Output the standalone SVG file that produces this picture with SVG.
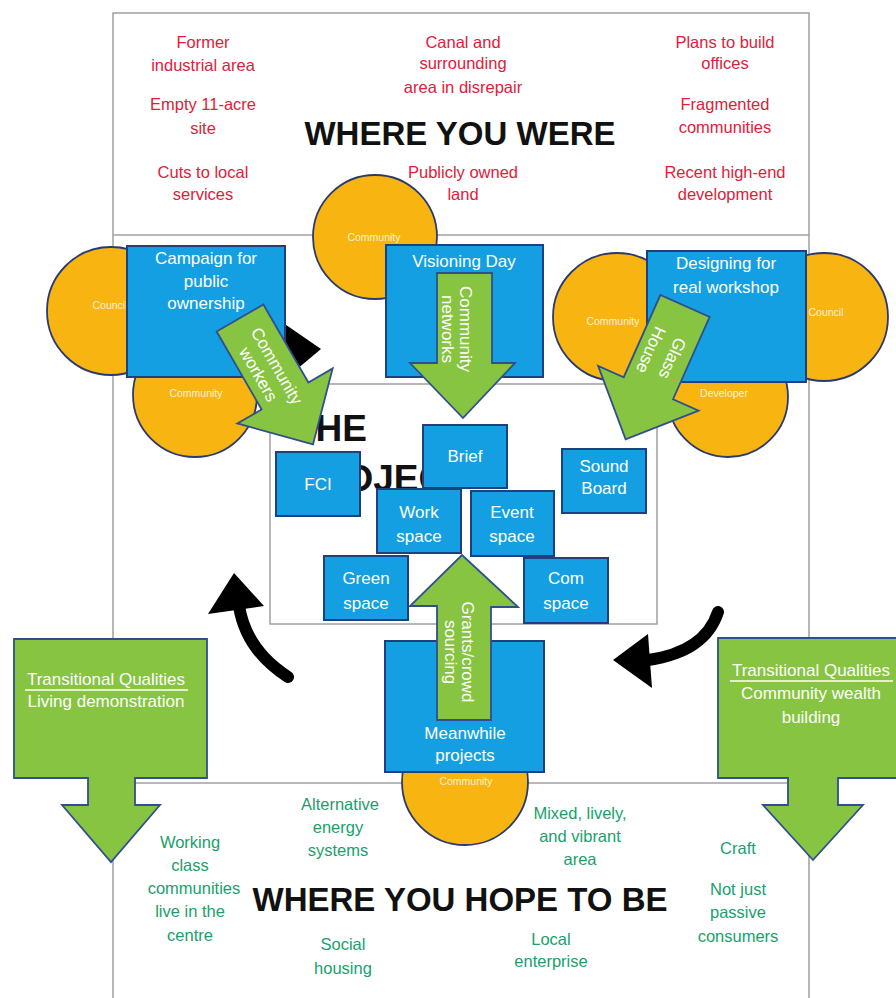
<svg xmlns="http://www.w3.org/2000/svg" width="896" height="998" viewBox="0 0 896 998">
<defs>
<style>
.frame{fill:none;stroke:#a0a0a0;stroke-width:1.5}
.red{font-family:"Liberation Sans",Arial,sans-serif;font-size:16.5px;fill:#e0203a;text-anchor:middle}
.grn{font-family:"Liberation Sans",Arial,sans-serif;font-size:16.5px;fill:#1a9f6c;text-anchor:middle}
.title{font-family:"Liberation Sans",Arial,sans-serif;font-size:33px;font-weight:bold;fill:#111;text-anchor:middle}
.proj{font-family:"Liberation Sans",Arial,sans-serif;font-size:37px;font-weight:bold;fill:#111}
.circ{fill:#f8b411;stroke:#2b3a6e;stroke-width:1.8}
.clab{font-family:"Liberation Sans",Arial,sans-serif;font-size:10.5px;fill:#fff;fill-opacity:0.85;text-anchor:middle}
.box{fill:#139fe2;stroke:#1f3f7f;stroke-width:2}
.btxt{font-family:"Liberation Sans",Arial,sans-serif;font-size:17px;fill:#fff;text-anchor:middle}
.garr{fill:#86c441;stroke:#2f4f8f;stroke-width:1.8}
.gtxt{font-family:"Liberation Sans",Arial,sans-serif;font-size:17px;fill:#fff;text-anchor:middle}
.curve{fill:none;stroke:#000;stroke-width:12;stroke-linecap:round}
</style>
<path id="arrowShape" d="M0,-27 L90,-27 L90,-55 L146,0 L90,55 L90,27 L0,27 Z"/>
</defs>
<rect x="0" y="0" width="896" height="998" fill="#fff"/>

<g id="frames">
<polyline class="frame" points="113,998 113,13 809,13 809,998"/>
<line class="frame" x1="113" y1="235" x2="809" y2="235"/>
<line class="frame" x1="113" y1="783" x2="809" y2="783"/>
<rect class="frame" x="270" y="384" width="387" height="240"/>
</g>

<g id="where-you-were">
<text class="red" x="203" y="48">Former</text>
<text class="red" x="203" y="71">industrial area</text>
<text class="red" x="203" y="110">Empty 11-acre</text>
<text class="red" x="203" y="134">site</text>
<text class="red" x="203" y="178">Cuts to local</text>
<text class="red" x="203" y="200">services</text>
<text class="red" x="463" y="48">Canal and</text>
<text class="red" x="463" y="69">surrounding</text>
<text class="red" x="463" y="93">area in disrepair</text>
<text class="red" x="463" y="178">Publicly owned</text>
<text class="red" x="463" y="200">land</text>
<text class="red" x="725" y="48">Plans to build</text>
<text class="red" x="725" y="69">offices</text>
<text class="red" x="725" y="110">Fragmented</text>
<text class="red" x="725" y="133">communities</text>
<text class="red" x="725" y="178">Recent high-end</text>
<text class="red" x="725" y="200">development</text>
<text class="title" x="460" y="145">WHERE YOU WERE</text>
</g>

<g id="the-project-label">
<text class="proj" x="293" y="441">THE</text>
<text class="proj" x="293" y="491">PROJECT</text>
</g>

<g id="circle-community-top"><circle class="circ" cx="375" cy="237" r="62"/><text class="clab" x="374" y="241">Community</text></g>
<g id="circle-council-left"><circle class="circ" cx="111" cy="311" r="64"/><text class="clab" x="110" y="309">Council</text></g>
<g id="circle-community-left"><circle class="circ" cx="195" cy="395" r="62"/><text class="clab" x="196" y="397">Community</text></g>
<g id="circle-community-right"><circle class="circ" cx="617" cy="317" r="64"/><text class="clab" x="613" y="325">Community</text></g>
<g id="circle-council-right"><circle class="circ" cx="824" cy="317" r="64"/><text class="clab" x="826" y="316">Council</text></g>
<g id="circle-developer"><circle class="circ" cx="728" cy="397" r="60"/><text class="clab" x="724" y="397">Developer</text></g>
<g id="circle-community-bottom"><circle class="circ" cx="465" cy="782" r="63"/><text class="clab" x="466" y="785">Community</text></g>

<g id="black-wedge"><polygon points="276,318 321,349 284,380" fill="#000"/></g>

<g id="box-campaign"><rect class="box" x="127" y="246" width="158" height="131"/>
<text class="btxt" x="206" y="264">Campaign for</text><text class="btxt" x="206" y="287">public</text><text class="btxt" x="206" y="309">ownership</text></g>
<g id="box-visioning"><rect class="box" x="386" y="245" width="157" height="132"/>
<text class="btxt" x="464" y="267">Visioning Day</text></g>
<g id="box-designing"><rect class="box" x="647" y="251" width="159" height="131"/>
<text class="btxt" x="726" y="269">Designing for</text><text class="btxt" x="726" y="293">real workshop</text></g>
<g id="box-brief"><rect class="box" x="423" y="425" width="84" height="63"/><text class="btxt" x="465" y="462">Brief</text></g>
<g id="box-fci"><rect class="box" x="276" y="452" width="84" height="64"/><text class="btxt" x="318" y="490">FCI</text></g>
<g id="box-sound"><rect class="box" x="562" y="449" width="84" height="64"/><text class="btxt" x="604" y="472">Sound</text><text class="btxt" x="604" y="494">Board</text></g>
<g id="box-work"><rect class="box" x="377" y="489" width="84" height="64"/><text class="btxt" x="419" y="518">Work</text><text class="btxt" x="419" y="542">space</text></g>
<g id="box-event"><rect class="box" x="471" y="491" width="83" height="65"/><text class="btxt" x="512" y="518">Event</text><text class="btxt" x="512" y="542">space</text></g>
<g id="box-green"><rect class="box" x="324" y="556" width="84" height="64"/><text class="btxt" x="366" y="584">Green</text><text class="btxt" x="366" y="609">space</text></g>
<g id="box-com"><rect class="box" x="524" y="558" width="84" height="65"/><text class="btxt" x="566" y="584">Com</text><text class="btxt" x="566" y="609">space</text></g>
<g id="box-meanwhile"><rect class="box" x="385" y="641" width="159" height="131"/><text class="btxt" x="465" y="739">Meanwhile</text><text class="btxt" x="465" y="761">projects</text></g>

<g id="connectors">
<g id="arrow-community-workers" transform="translate(240,318) rotate(60)">
<use href="#arrowShape" class="garr"/>
<text class="gtxt" x="60" y="-2">Community</text><text class="gtxt" x="58" y="18">workers</text>
</g>
<g id="arrow-glass-house" transform="translate(685,306) rotate(114)">
<use href="#arrowShape" class="garr"/>
<text class="gtxt" x="53" y="-4">Glass</text><text class="gtxt" x="54" y="19">House</text>
</g>
<g id="arrow-community-networks">
<path class="garr" d="M437,273 H492 V363 H515 L463,418 L410,363 H437 Z"/>
<g transform="translate(464,329) rotate(90)">
<text class="gtxt" x="0" y="4">Community</text><text class="gtxt" x="0" y="22">networks</text>
</g>
</g>
<g id="arrow-grants">
<path class="garr" d="M437,720 V606 H410 L462,555 L518,607 H491 V720 Z"/>
<g transform="translate(466,652) rotate(90)">
<text class="gtxt" x="0" y="4">Grants/crowd</text><text class="gtxt" x="0" y="21">sourcing</text>
</g>
</g>
<g id="curve-left">
<path class="curve" d="M288,677 Q246,650 239,606"/>
<polygon points="234,573 208,614 264,606" fill="#000"/>
</g>
<g id="curve-right">
<path class="curve" d="M718,612 Q705,652 648,660"/>
<polygon points="613,660 648,634 652,688" fill="#000"/>
</g>
</g>

<g id="callout-left">
<path class="garr" d="M14,639 H207 V778 H135 V805 H160 L111,862 L62,805 H88 V778 H14 Z"/>
<text class="gtxt" x="106" y="685">Transitional Qualities</text>
<line x1="25" y1="690" x2="188" y2="690" stroke="#fff" stroke-width="1.6"/>
<text class="gtxt" x="106" y="707">Living demonstration</text>
</g>
<g id="callout-right">
<path class="garr" d="M718,638 H900 V778 H838 V805 H863 L813,860 L763,805 H788 V778 H718 Z"/>
<text class="gtxt" x="811" y="676">Transitional Qualities</text>
<line x1="730" y1="681" x2="893" y2="681" stroke="#fff" stroke-width="1.6"/>
<text class="gtxt" x="811" y="699">Community wealth</text>
<text class="gtxt" x="811" y="723">building</text>
</g>

<g id="where-you-hope-to-be">
<text class="grn" x="190" y="848">Working</text>
<text class="grn" x="190" y="871">class</text>
<text class="grn" x="194" y="894">communities</text>
<text class="grn" x="190" y="917">live in the</text>
<text class="grn" x="190" y="941">centre</text>
<text class="grn" x="340" y="810">Alternative</text>
<text class="grn" x="338" y="833">energy</text>
<text class="grn" x="338" y="856">systems</text>
<text class="grn" x="343" y="950">Social</text>
<text class="grn" x="343" y="974">housing</text>
<text class="grn" x="580" y="819">Mixed, lively,</text>
<text class="grn" x="580" y="842">and vibrant</text>
<text class="grn" x="580" y="865">area</text>
<text class="grn" x="551" y="945">Local</text>
<text class="grn" x="551" y="967">enterprise</text>
<text class="grn" x="738" y="854">Craft</text>
<text class="grn" x="738" y="895">Not just</text>
<text class="grn" x="738" y="918">passive</text>
<text class="grn" x="738" y="942">consumers</text>
<text class="title" x="460" y="911" font-size="32">WHERE YOU HOPE TO BE</text>
</g>
</svg>
